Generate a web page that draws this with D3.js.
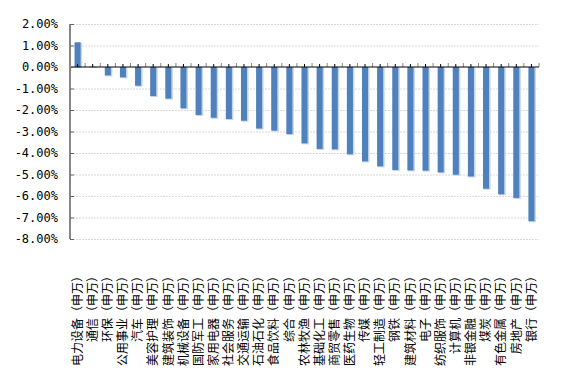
<!DOCTYPE html>
<html>
<head>
<meta charset="utf-8">
<script src="https://cdn.jsdelivr.net/npm/d3@7"></script>
<style>
  body { margin: 0; background: #fff; }
  .yText { font-family: "DejaVu Sans Mono", monospace; font-size: 12px; fill: #000; }
  .catText { font-family: "Noto Sans CJK SC", sans-serif; font-size: 12px; fill: #000; }
</style>
</head>
<body>
<div id="chart"></div>
<script>
var categories = ["电力设备", "通信", "环保", "公用事业", "汽车", "美容护理", "建筑装饰",
  "机械设备", "国防军工", "家用电器", "社会服务", "交通运输", "石油石化", "食品饮料",
  "综合", "农林牧渔", "基础化工", "商贸零售", "医药生物", "传媒", "轻工制造", "钢铁",
  "建筑材料", "电子", "纺织服饰", "计算机", "非银金融", "煤炭", "有色金属", "房地产", "银行"];
var values = [1.15, 0.02, -0.39, -0.48, -0.87, -1.35, -1.47, -1.92, -2.23, -2.36, -2.42,
  -2.50, -2.86, -2.96, -3.12, -3.55, -3.81, -3.83, -4.06, -4.39, -4.62, -4.79, -4.81,
  -4.82, -4.90, -5.01, -5.09, -5.66, -5.92, -6.09, -7.17];
var yTicks = [2, 1, 0, -1, -2, -3, -4, -5, -6, -7, -8];
var suffix = "（申万）";

var width = 572, height = 374;
var plotLeft = 70, plotRight = 539, plotTop = 24, plotBottom = 239;

var svg = d3.select("#chart").append("svg")
  .attr("width", width)
  .attr("height", height);

var x = d3.scaleBand()
  .domain(categories)
  .range([plotLeft, plotRight])
  .paddingInner(0.6)
  .paddingOuter(0.3);

var y = d3.scaleLinear()
  .domain([-8, 2])
  .range([plotBottom, plotTop]);

// gridlines
svg.append("g").selectAll("line")
  .data(yTicks.filter(function(d){ return d !== 0; }))
  .enter().append("line")
  .attr("x1", plotLeft).attr("x2", plotRight)
  .attr("y1", function(d){ return y(d) + 0.5; })
  .attr("y2", function(d){ return y(d) + 0.5; })
  .attr("stroke", "#d9d9d9")
  .attr("stroke-width", 1)
  .attr("stroke-dasharray", "2,1");

// bars (pale edge behind, then fill)
var bars = svg.append("g").selectAll("g")
  .data(values)
  .enter().append("g");

bars.append("rect")
  .attr("x", function(d, i){ return x(categories[i]) + 0.5; })
  .attr("y", function(d){ return Math.min(y(d), y(0)) + 0.5; })
  .attr("width", x.bandwidth() + 1)
  .attr("height", function(d){ return Math.abs(y(d) - y(0)) + 0.5; })
  .attr("fill", "#c5d5ea");

bars.append("rect")
  .attr("x", function(d, i){ return x(categories[i]); })
  .attr("y", function(d){ return Math.min(y(d), y(0)); })
  .attr("width", x.bandwidth())
  .attr("height", function(d){ return Math.abs(y(d) - y(0)); })
  .attr("fill", "#4f81bd");

// category axis at zero
var step = x.step();
var half = [];
for (var i = 0; i <= categories.length * 2; i++) half.push(i);
svg.append("g").selectAll("line")
  .data(half)
  .enter().append("line")
  .attr("x1", function(d){ return x(categories[0]) - step * 0.3 + d * step / 2; })
  .attr("x2", function(d){ return x(categories[0]) - step * 0.3 + d * step / 2; })
  .attr("y1", y(0))
  .attr("y2", function(d){ return y(0) - (d % 2 === 0 ? 4 : 3); })
  .attr("stroke", function(d){ return d % 2 === 0 ? "#888" : "#000"; })
  .attr("stroke-width", 1);

svg.append("line")
  .attr("x1", plotLeft).attr("x2", plotRight)
  .attr("y1", y(0)).attr("y2", y(0))
  .attr("stroke", "#000")
  .attr("stroke-width", 1.2);

// y axis
var yAxis = svg.append("g")
  .attr("transform", "translate(" + plotLeft + ",0)")
  .call(d3.axisLeft(y)
    .tickValues(yTicks)
    .tickSize(-4)
    .tickPadding(12)
    .tickFormat(function(d){ return d.toFixed(2) + "%"; }));
yAxis.attr("font-family", null).attr("font-size", null);
yAxis.select(".domain").attr("stroke", "#868686").attr("stroke-width", 2)
  .attr("d", "M0," + plotTop + "V" + plotBottom);
yAxis.selectAll(".tick line").attr("stroke", "#666");
yAxis.selectAll(".tick text").attr("class", "yText").attr("fill", null);

// category labels, rotated
svg.append("g").selectAll("text")
  .data(categories)
  .enter().append("text")
  .attr("class", "catText")
  .attr("transform", function(d){
    return "translate(" + (x(d) + x.bandwidth() / 2) + ",270) rotate(-90)";
  })
  .attr("dy", "0.35em")
  .attr("text-anchor", "end")
  .text(function(d){ return d + suffix; });
</script>
</body>
</html>
